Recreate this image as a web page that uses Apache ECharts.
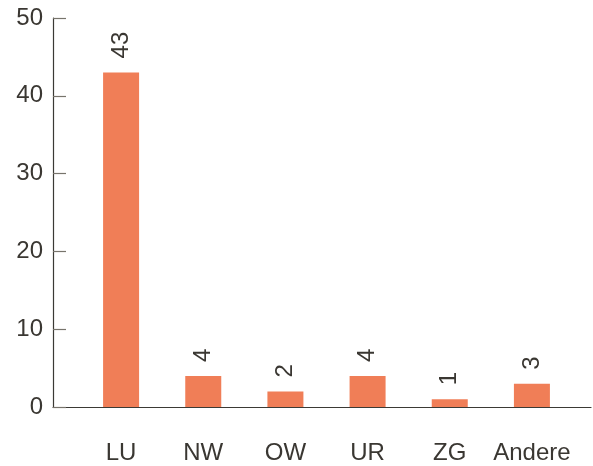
<!DOCTYPE html>
<html>
<head>
<meta charset="utf-8">
<script src="https://cdn.jsdelivr.net/npm/echarts@6/dist/echarts.min.js"></script>
<style>html,body{margin:0;padding:0;background:#fff}#c{width:593px;height:466px}</style>
</head>
<body>
<div id="c"></div>
<script>
const categories = ['LU', 'NW', 'OW', 'UR', 'ZG', 'Andere'];
const values = [43, 4, 2, 4, 1, 3];
const yTicks = [0, 10, 20, 30, 40, 50];

const textColor = '#3a3732';
const font = 'Liberation Sans, Arial, sans-serif';
const chart = echarts.init(document.getElementById('c'));
chart.setOption({
  animation: false,
  grid: [
    { left: 53, right: 2, top: 18, bottom: 59 },
    { left: 80, right: 20, top: 18, bottom: 59 }
  ],
  xAxis: [
    { gridIndex: 0, type: 'value', min: 0, max: 1,
      axisLine: { show: true, lineStyle: { color: '#3b3a35', width: 1.2 } },
      axisTick: { show: false }, axisLabel: { show: false }, splitLine: { show: false } },
    { gridIndex: 1, type: 'category', data: categories,
      axisLine: { show: false }, axisTick: { show: false },
      axisLabel: { interval: 0, margin: 34, color: textColor, fontSize: 24, fontFamily: font } }
  ],
  yAxis: [
    { gridIndex: 0, type: 'value', min: yTicks[0], max: yTicks[yTicks.length - 1], interval: 10,
      axisLine: { show: true, lineStyle: { color: '#3b3a35', width: 1.2 } },
      axisTick: { show: true, inside: true, length: 13, lineStyle: { color: '#77746c', width: 1.2 } },
      axisLabel: { margin: 10, color: textColor, fontSize: 24, fontFamily: font },
      splitLine: { show: false } },
    { gridIndex: 1, type: 'value', min: yTicks[0], max: yTicks[yTicks.length - 1], interval: 10,
      show: false }
  ],
  series: [{
    type: 'bar',
    xAxisIndex: 1, yAxisIndex: 1,
    data: values,
    barWidth: 36,
    itemStyle: { color: '#f07e57' },
    label: {
      show: true, position: 'top', rotate: 90, align: 'left', verticalAlign: 'middle',
      distance: 14, color: textColor, fontSize: 24, fontFamily: font
    }
  }]
});
</script>
</body>
</html>
